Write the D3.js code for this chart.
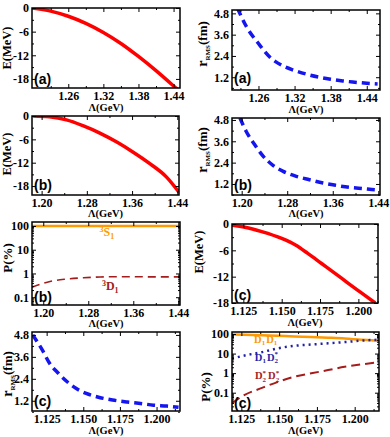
<!DOCTYPE html>
<html>
<head>
<meta charset="utf-8">
<script src="https://cdn.jsdelivr.net/npm/d3@7"></script>
<style>
body { margin: 0; background: #fff; }
svg text { font-family: "Liberation Serif", "Times New Roman", serif; font-weight: bold; fill: #000; }
.tick text { font-size: 12px; }
text.tag { font-family: "Liberation Sans", Arial, sans-serif; font-size: 14px; }
</style>
</head>
<body>
<svg id="fig" width="390" height="437"></svg>
<script>
// (a) binding energy and rms radius vs cutoff
var lamEa = [1.198, 1.23, 1.26, 1.29, 1.32, 1.35, 1.38, 1.41, 1.44, 1.446];
var eA = [0, -0.8, -2.1, -3.9, -6.2, -9.0, -12.3, -15.9, -19.8, -20.6];
var lamRa = [1.225, 1.24, 1.26, 1.28, 1.30, 1.32, 1.34, 1.36, 1.38, 1.40, 1.42, 1.44, 1.458];
var rA = [5.1, 4.05, 3.1, 2.3, 1.85, 1.58, 1.37, 1.21, 1.09, 0.99, 0.92, 0.86, 0.82];

// (b)
var lamEb = [1.185, 1.214, 1.244, 1.273, 1.303, 1.333, 1.362, 1.392, 1.421, 1.443];
var eB = [0, -0.2, -1.0, -2.5, -4.4, -6.7, -9.3, -12.3, -15.7, -19.6];
var lamRb = [1.197, 1.208, 1.223, 1.238, 1.255, 1.273, 1.296, 1.319, 1.343, 1.366, 1.39, 1.413, 1.436, 1.443];
var rB = [4.91, 4.15, 3.4, 2.75, 2.25, 1.91, 1.63, 1.44, 1.25, 1.12, 1.01, 0.94, 0.87, 0.86];
var lamPb = [1.18, 1.212, 1.241, 1.271, 1.301, 1.33, 1.36, 1.39, 1.42, 1.443];
var pS1 = [99.74, 99.54, 99.42, 99.34, 99.29, 99.27, 99.27, 99.28, 99.28, 99.28];
var pD1 = [0.26, 0.46, 0.58, 0.66, 0.71, 0.73, 0.73, 0.72, 0.72, 0.72];

// (c)
var lamEc = [1.117, 1.126, 1.137, 1.150, 1.159, 1.167, 1.176, 1.185, 1.193, 1.202, 1.211];
var eC = [-0.25, -0.75, -1.75, -3.3, -4.8, -6.7, -9.0, -11.3, -13.4, -15.7, -18.0];
var lamRc = [1.1155, 1.122, 1.127, 1.133, 1.139, 1.145, 1.152, 1.161, 1.170, 1.180, 1.189, 1.198, 1.207, 1.215];
var rC = [4.8, 3.98, 3.25, 2.7, 2.24, 1.88, 1.6, 1.38, 1.24, 1.13, 1.05, 0.96, 0.91, 0.84];
var lamPc = [1.1188, 1.1272, 1.1382, 1.1493, 1.1603, 1.1713, 1.1824, 1.1934, 1.2044, 1.2132, 1.2161];
var pD1D1 = [94.5, 91.5, 87.5, 81, 74, 69.5, 64.5, 59, 51, 46.5, 45];
var pD1D2 = [5.5, 8, 11.6, 18.6, 25, 29, 33.5, 38.5, 46, 50, 51];
var pD2D2 = [0.029, 0.077, 0.17, 0.36, 0.66, 0.98, 1.43, 2.1, 2.8, 3.4, 3.6];

// tick labels
var xTicksA = [1.26, 1.32, 1.38, 1.44];
var xTicksB = [1.20, 1.28, 1.36, 1.44];
var xTicksC = [1.125, 1.150, 1.175, 1.200];
var eTicks = [0, -6, -12, -18];
var rTicks = [1.2, 2.4, 3.6, 4.8];
var pTicks = [0.1, 1, 10, 100];

var ORANGE = "#ff9900", DARKRED = "#a51c1c", RED = "#ff0000", BLUE = "#1515f0", NAVY = "#1f1fa8";

var svg = d3.select("#fig");
var nclip = 0;

function panel(box, xDom, yDom, logY) {
	var w = box[2] - box[0], h = box[3] - box[1];
	var g = svg.append("g").attr("transform", "translate(" + box[0] + "," + box[1] + ")");
	var x = d3.scaleLinear().domain(xDom).range([0, w]);
	var y = (logY ? d3.scaleLog() : d3.scaleLinear()).domain(yDom).range([h, 0]);
	var id = "clip" + (nclip++);
	g.append("clipPath").attr("id", id).append("rect").attr("width", w).attr("height", h);
	var plot = g.append("g").attr("clip-path", "url(#" + id + ")");
	return {box: box, g: g, plot: plot, x: x, y: y, w: w, h: h};
}

function addAxis(p, axis, tr) {
	var a = p.g.append("g").attr("transform", tr).call(axis);
	a.select(".domain").remove();
	a.attr("font-size", null).attr("font-family", null);
}

function axes(p, xMajor, xMinor, xFmt, yMajor, yMinor, yFmt) {
	var b = "translate(0," + p.h + ")", r = "translate(" + p.w + ",0)", o = "translate(0,0)";
	addAxis(p, d3.axisBottom(p.x).tickValues(xMajor).tickSize(-4).tickPadding(3.5).tickFormat(xFmt), b);
	addAxis(p, d3.axisBottom(p.x).tickValues(xMinor).tickSize(-2).tickFormat(""), b);
	addAxis(p, d3.axisTop(p.x).tickValues(xMajor).tickSize(-4).tickFormat(""), o);
	addAxis(p, d3.axisTop(p.x).tickValues(xMinor).tickSize(-2).tickFormat(""), o);
	addAxis(p, d3.axisLeft(p.y).tickValues(yMajor).tickSize(-4).tickPadding(3).tickFormat(yFmt), o);
	addAxis(p, d3.axisLeft(p.y).tickValues(yMinor).tickSize(-2).tickFormat(""), o);
	addAxis(p, d3.axisRight(p.y).tickValues(yMajor).tickSize(-4).tickFormat(""), r);
	addAxis(p, d3.axisRight(p.y).tickValues(yMinor).tickSize(-2).tickFormat(""), r);
	p.g.append("rect").attr("width", p.w).attr("height", p.h)
		.attr("fill", "none").attr("stroke", "#000").attr("stroke-width", 1.5);
}

function curve(p, xs, ys, color, width, dash) {
	var line = d3.line()
		.x(function(d) { return p.x(d[0]); })
		.y(function(d) { return p.y(d[1]); })
		.curve(d3.curveMonotoneX);
	p.plot.append("path")
		.datum(d3.zip(xs, ys))
		.attr("d", line)
		.attr("fill", "none")
		.attr("stroke", color)
		.attr("stroke-width", width)
		.attr("stroke-dasharray", dash || null);
}

function tag(p, s, up) {
	p.g.append("text").attr("class", "tag").attr("x", 2).attr("y", p.h - up).text(s);
}

function xTitle(p, below) {
	p.g.append("text").attr("x", p.w / 2).attr("y", p.h + below)
		.attr("text-anchor", "middle").style("font-size", "10.5px").text("\u039b(GeV)");
}

// parts: [text, size, baseline shift, dx]
function rich(sel, parts) {
	parts.forEach(function(t) {
		sel.append("tspan").attr("dy", t[2]).attr("dx", t[3] || 0).style("font-size", t[1] + "px").text(t[0]);
	});
	return sel;
}

function yTitle(cx, cy, parts) {
	var t = svg.append("text").attr("transform", "translate(" + cx + "," + cy + ") rotate(-90)")
		.attr("text-anchor", "middle").attr("dy", "0.35em");
	rich(t, parts);
}

function note(p, xv, yv, color, parts) {
	var t = p.g.append("text").attr("x", p.x(xv)).attr("y", p.y(yv))
		.attr("text-anchor", "middle").style("fill", color);
	rich(t, parts);
}

var f2 = d3.format(".2f"), f3 = d3.format(".3f"), f1 = d3.format(".1f");
var fe = function(d) { return String(d); };
var eMinor = d3.range(-3, -21, -6);
var rMinor = [0.6, 1.8, 3.0, 4.2];
var ETitle = [["E(MeV)", 12.5, 0]];
var RTitle = [["r", 14, 0], ["RMS", 7, 2.5], ["(fm)", 13, -2.5]];
var PTitle = [["P(%)", 13, 0]];

function logMinor(y) {
	return y.ticks().filter(function(v) {
		var l = Math.log10(v);
		return Math.abs(l - Math.round(l)) > 1e-6;
	});
}

// row 1 : (a)
var pEa = panel([32, 8, 180, 88], [1.198, 1.451], [-20.3, 0]);
axes(pEa, xTicksA, [1.23, 1.29, 1.35, 1.41], f2, eTicks, eMinor, fe);
curve(pEa, lamEa, eA, RED, 3.5);
tag(pEa, "(a)", 4);
xTitle(pEa, 22.5);
yTitle(11, 48, ETitle);

var pRa = panel([232, 10, 380, 90], [1.216, 1.462], [0.48, 4.99]);
axes(pRa, xTicksA, [1.23, 1.29, 1.35, 1.41], f2, rTicks, rMinor, f1);
curve(pRa, lamRa, rA, BLUE, 3.5, "8,5");
tag(pRa, "(a)", 7);
xTitle(pRa, 22.5);
yTitle(207, 44, RTitle);

// row 2 : (b)
var pEb = panel([32, 116, 179, 195], [1.183, 1.443], [-20.3, 0]);
axes(pEb, xTicksB, [1.24, 1.32, 1.40], f2, eTicks, eMinor, fe);
curve(pEb, lamEb, eB, RED, 3.5);
tag(pEb, "(b)", 5);
xTitle(pEb, 22);
yTitle(11, 154, ETitle);

var pRb = panel([232, 118, 380, 195], [1.183, 1.443], [0.58, 4.91]);
axes(pRb, xTicksB, [1.24, 1.32, 1.40], f2, rTicks, rMinor, f1);
curve(pRb, lamRb, rB, BLUE, 3.5, "8,5");
tag(pRb, "(b)", 5);
xTitle(pRb, 22);
yTitle(207, 150, RTitle);

// row 3
var pPb = panel([32, 222, 180, 305], [1.18, 1.443], [0.047, 147], true);
axes(pPb, xTicksB, [1.24, 1.32, 1.40], f2, pTicks, logMinor(pPb.y), fe);
curve(pPb, lamPb, pS1, ORANGE, 2.5);
curve(pPb, lamPb, pD1, DARKRED, 1.6, "8,5");
note(pPb, 1.313, 38, ORANGE, [["3", 8, -4], ["S", 12, 4], ["1", 8, 3]]);
note(pPb, 1.319, 0.21, DARKRED, [["3", 8, -4], ["D", 12, 4], ["1", 8, 3]]);
tag(pPb, "(b)", 3);
xTitle(pPb, 21.5);
yTitle(12, 258, PTitle);

var pEc = panel([232, 224, 378, 303], [1.1176, 1.2128], [-18, 0]);
axes(pEc, xTicksC, [1.1375, 1.1625, 1.1875, 1.2125], f3, eTicks, eMinor, fe);
curve(pEc, lamEc, eC, RED, 3.5);
tag(pEc, "(c)", 3);
xTitle(pEc, 22.5);
yTitle(203, 252, ETitle);

// row 4 : (c)
var pRc = panel([32, 332, 180, 411], [1.115, 1.216], [0.64, 4.96]);
axes(pRc, xTicksC, [1.1375, 1.1625, 1.1875, 1.2125], f3, rTicks, rMinor, f1);
curve(pRc, lamRc, rC, BLUE, 3.5, "8,5");
tag(pRc, "(c)", 5);
xTitle(pRc, 22.5);
yTitle(12, 374, RTitle);

var pPc = panel([232, 332, 379, 411], [1.1188, 1.2161], [0.0116, 126.6], true);
axes(pPc, xTicksC, [1.1375, 1.1625, 1.1875, 1.2125], f3, pTicks, logMinor(pPc.y), fe);
curve(pPc, lamPc, pD1D1, ORANGE, 2.5);
curve(pPc, lamPc, pD1D2, NAVY, 2.5, "2,4");
curve(pPc, lamPc, pD2D2, DARKRED, 2, "9,5");
note(pPc, 1.1411, 35, ORANGE, [["D", 10.5, 0], ["1", 7, 2.5], ["D", 10.5, -2.5, 1], ["1", 7, 2.5]]);
note(pPc, 1.1416, 4.2, NAVY, [["D", 10.5, 0], ["1", 7, 2.5], ["D", 10.5, -2.5, 1], ["2", 7, 2.5], ["*", 7, -7, -3.5]]);
note(pPc, 1.142, 0.5, DARKRED, [["D", 10.5, 0], ["2", 7, 2.5], ["*", 7, -7, -3.5], ["D", 10.5, 4.5, 2], ["2", 7, 2.5], ["*", 7, -7, -3.5]]);
tag(pPc, "(c)", 3);
xTitle(pPc, 22.5);
yTitle(210, 387, PTitle);
</script>
</body>
</html>
